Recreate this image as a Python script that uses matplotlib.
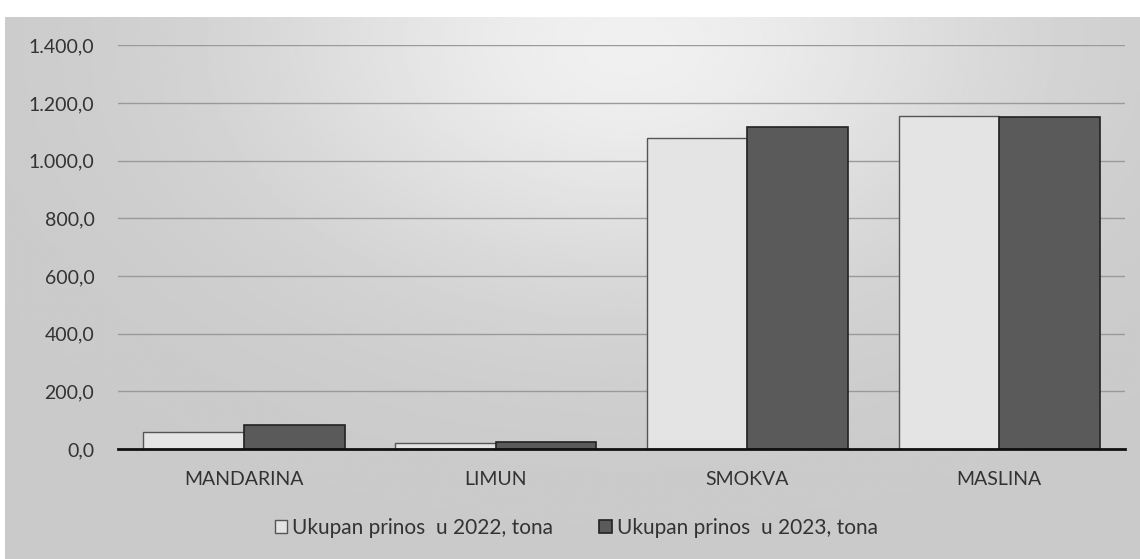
import matplotlib.pyplot as plt
import numpy as np
from matplotlib.ticker import FuncFormatter

# data (tonnes)
categories = ['MANDARINA', 'LIMUN', 'SMOKVA', 'MASLINA']
yield_2022 = [60, 20, 1080, 1155]
yield_2023 = [83, 25, 1115, 1150]
labels = ['Ukupan prinos  u 2022, tona', 'Ukupan prinos  u 2023, tona']

plt.rcParams['font.family'] = ['Lato', 'DejaVu Sans']

fig = plt.figure(figsize=(11.4, 5.59), dpi=100)
fig.patch.set_facecolor('white')

# scanned grey background, lighter at the top centre
bg = fig.add_axes([0.004, 0, 0.996, 0.97], zorder=-1)
yy, xx = np.mgrid[0:1:200j, 0:1:400j]
glow = np.exp(-(((xx - 0.55) / 0.33) ** 2 + ((yy - 0.05) / 0.45) ** 2))
bg.imshow(0.79 + 0.15 * glow, cmap='gray', vmin=0, vmax=1, aspect='auto',
          extent=[0, 1, 0, 1], origin='upper')
bg.axis('off')

ax = fig.add_axes([0.1035, 0.197, 0.8835, 0.722])
ax.patch.set_alpha(0)

x = np.arange(len(categories))
w = 0.4
ax.bar(x - w / 2, yield_2022, w, color='#e4e4e4', edgecolor='#555555',
       linewidth=1, label=labels[0], zorder=3)
ax.bar(x + w / 2, yield_2023, w, color='#5a5a5a', edgecolor='#222222',
       linewidth=1.2, label=labels[1], zorder=3)

ax.set_xlim(-0.5, 3.5)
ax.set_ylim(0, 1400)
ax.set_yticks(np.arange(0, 1401, 200))
ax.yaxis.set_major_formatter(FuncFormatter(
    lambda v, p: f'{v:,.1f}'.replace(',', 'X').replace('.', ',').replace('X', '.')))
ax.set_xticks(x)
ax.set_xticklabels(categories)
ax.tick_params(axis='both', length=0, labelsize=14, colors='#333333')
ax.tick_params(axis='y', pad=17)
ax.tick_params(axis='x', pad=16)

ax.grid(axis='y', color='#9a9a9a', linewidth=1, zorder=0)
for s in ['top', 'right', 'left']:
    ax.spines[s].set_visible(False)
ax.spines['bottom'].set_color('#111111')
ax.spines['bottom'].set_linewidth(2)
ax.spines['bottom'].set_zorder(4)

leg = ax.legend(loc='upper center', bbox_to_anchor=(0.455, -0.125), ncol=2,
                frameon=False, fontsize=15, handlelength=0.6, handleheight=0.6,
                handletextpad=0.25, columnspacing=2.2)
for t in leg.get_texts():
    t.set_color('#333333')

fig.savefig('out.png', dpi=100, facecolor=fig.get_facecolor())
